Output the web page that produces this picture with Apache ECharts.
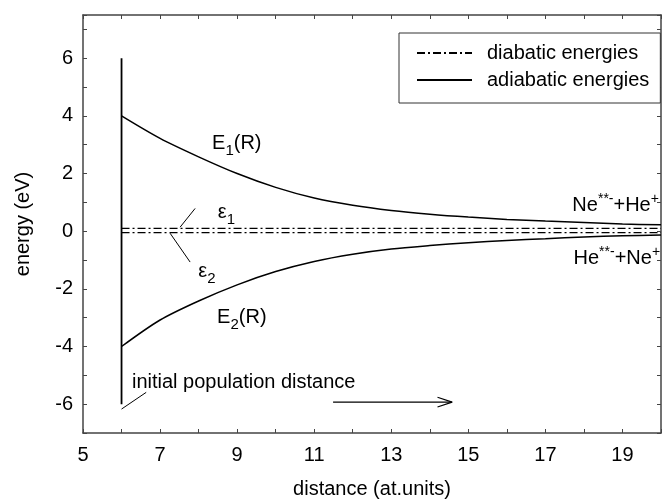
<!DOCTYPE html>
<html>
<head>
<meta charset="utf-8">
<script src="https://cdn.jsdelivr.net/npm/echarts@6/dist/echarts.min.js"></script>
<style>
  html, body { margin: 0; padding: 0; background: #fff; }
  #chart { width: 668px; height: 504px; }
</style>
</head>
<body>
<div id="chart"></div>
<script>
// distance R (at.units) and energies (eV)
const distance = [6, 7, 8, 9, 10, 11, 12, 13, 14, 15, 16, 17, 18, 19, 20]
const adiabaticE1 = [4.0, 3.22, 2.58, 2.0, 1.52, 1.15, 0.9, 0.72, 0.59, 0.49, 0.41, 0.35, 0.3, 0.25, 0.22]
const adiabaticE2 = [-4.0, -3.08, -2.42, -1.86, -1.4, -1.05, -0.8, -0.62, -0.5, -0.4, -0.32, -0.26, -0.2, -0.16, -0.13]
const diabaticX = [6, 20]
const diabaticEps1 = [0.1, 0.1]
const diabaticEps2 = [-0.05, -0.05]
// initial population distance marker
const initLine = [[6, -6], [6, 6]]
const eps1Leader = [[7.52, 0.14], [7.91, 0.79]]
const eps2Leader = [[7.26, -0.07], [7.78, -1.07]]
const initLeader = [[6.0, -6.17], [6.64, -5.59]]
const arrowShaft = [[11.49, -5.93], [14.58, -5.93]]
const arrowHead = [[14.2, -5.76], [14.58, -5.93], [14.2, -6.1]]
// annotation texts: [x, y, text]
const annotations = [
  [8.35, 3.03, '{b|E}{sub|1}{b|(R)}'],
  [8.5, 0.65, '{b|ε}{sub|1}'],
  [7.99, -1.4, '{b|ε}{sub|2}'],
  [8.48, -3.0, '{b|E}{sub|2}{b|(R)}'],
  [17.7, 0.9, '{b|Ne}{sup|**-}{b|+He}{sup|+}'],
  [17.73, -0.93, '{b|He}{sup|**-}{b|+Ne}{sup|+}'],
  [6.27, -5.24, '{b|initial population distance}']
]
const xTicks = [5, 7, 9, 11, 13, 15, 17, 19]
const yTicks = [-6, -4, -2, 0, 2, 4, 6]

const FONT = 'Liberation Sans, Arial, Helvetica, sans-serif'
const INK = '#000'
const AXIS = '#444'

const chart = echarts.init(document.getElementById('chart'))

const zip = (xs, ys) => xs.map((x, i) => [x, ys[i]])

const axisCommon = {
  type: 'value',
  interval: 1,
  axisLine: { show: true, onZero: false, lineStyle: { color: AXIS, width: 1.5 } },
  axisTick: { show: true, inside: true, length: 4, lineStyle: { color: AXIS, width: 1 } },
  splitLine: { show: false }
}

const plainLine = (data, width) => ({
  type: 'line',
  data: data,
  symbol: 'none',
  silent: true,
  color: INK,
  lineStyle: { color: INK, width: width || 1 }
})

chart.setOption({
  animation: false,
  color: [INK],
  textStyle: { fontFamily: FONT },
  grid: { left: 83, top: 15, right: 7, bottom: 71 },
  legend: {
    left: 399,
    top: 33,
    orient: 'vertical',
    data: ['diabatic energies', 'adiabatic energies'],
    itemWidth: 55,
    itemHeight: 14,
    itemGap: 7,
    padding: [10, 11, 13, 17],
    borderColor: '#333',
    borderWidth: 1,
    backgroundColor: '#fff',
    itemStyle: { opacity: 0 },
    textStyle: { fontSize: 20, color: INK, fontFamily: FONT, padding: [0, 0, 0, 10] }
  },
  xAxis: [
    Object.assign({}, axisCommon, {
      min: 5,
      max: 20,
      name: 'distance (at.units)',
      nameLocation: 'middle',
      nameGap: 46,
      nameTextStyle: { fontSize: 20, color: INK },
      axisLabel: {
        fontSize: 20,
        color: INK,
        margin: 12,
        formatter: v => (xTicks.indexOf(v) >= 0 ? String(v) : '')
      }
    }),
    Object.assign({}, axisCommon, {
      min: 5,
      max: 20,
      position: 'top',
      axisLabel: { show: false }
    })
  ],
  yAxis: [
    Object.assign({}, axisCommon, {
      min: -7,
      max: 7.5,
      name: 'energy (eV)',
      nameLocation: 'middle',
      nameGap: 50,
      nameTextStyle: { fontSize: 20, color: INK },
      axisLabel: {
        fontSize: 20,
        color: INK,
        margin: 10,
        formatter: v => (yTicks.indexOf(v) >= 0 ? String(v) : '')
      }
    }),
    Object.assign({}, axisCommon, {
      min: -7,
      max: 7.5,
      position: 'right',
      axisLabel: { show: false }
    })
  ],
  series: [
    {
      name: 'diabatic energies',
      type: 'line',
      data: zip(diabaticX, diabaticEps1),
      symbol: 'none',
      lineStyle: { color: INK, width: 1.2, type: [8, 3, 2, 3] }
    },
    {
      name: 'diabatic energies',
      type: 'line',
      data: zip(diabaticX, diabaticEps2),
      symbol: 'none',
      lineStyle: { color: INK, width: 1.2, type: [8, 3, 2, 3] }
    },
    {
      name: 'adiabatic energies',
      type: 'line',
      data: zip(distance, adiabaticE1),
      smooth: 0.3,
      symbol: 'none',
      lineStyle: { color: INK, width: 1.5 }
    },
    {
      name: 'adiabatic energies',
      type: 'line',
      data: zip(distance, adiabaticE2),
      smooth: 0.3,
      symbol: 'none',
      lineStyle: { color: INK, width: 1.5 }
    },
    plainLine(initLine, 1.8),
    plainLine(eps1Leader, 1),
    plainLine(eps2Leader, 1),
    plainLine(initLeader, 1),
    plainLine(arrowShaft, 1.2),
    plainLine(arrowHead, 1.2),
    {
      type: 'scatter',
      silent: true,
      symbolSize: 0,
      itemStyle: { opacity: 1, color: INK },
      data: annotations.map(a => ({ value: [a[0], a[1]], text: a[2] })),
      label: {
        show: true,
        position: 'right',
        distance: 0,
        opacity: 1,
        color: INK,
        textBorderWidth: 0,
        formatter: p => p.data.text,
        rich: {
          b: { fontSize: 20, color: INK, fontFamily: FONT, textBorderWidth: 0 },
          sub: { fontSize: 15, color: INK, fontFamily: FONT, textBorderWidth: 0, padding: [14, 0, 0, 0] },
          sup: { fontSize: 14, color: INK, fontFamily: FONT, textBorderWidth: 0, padding: [0, 0, 12, 0] }
        }
      }
    }
  ]
})
</script>
</body>
</html>
